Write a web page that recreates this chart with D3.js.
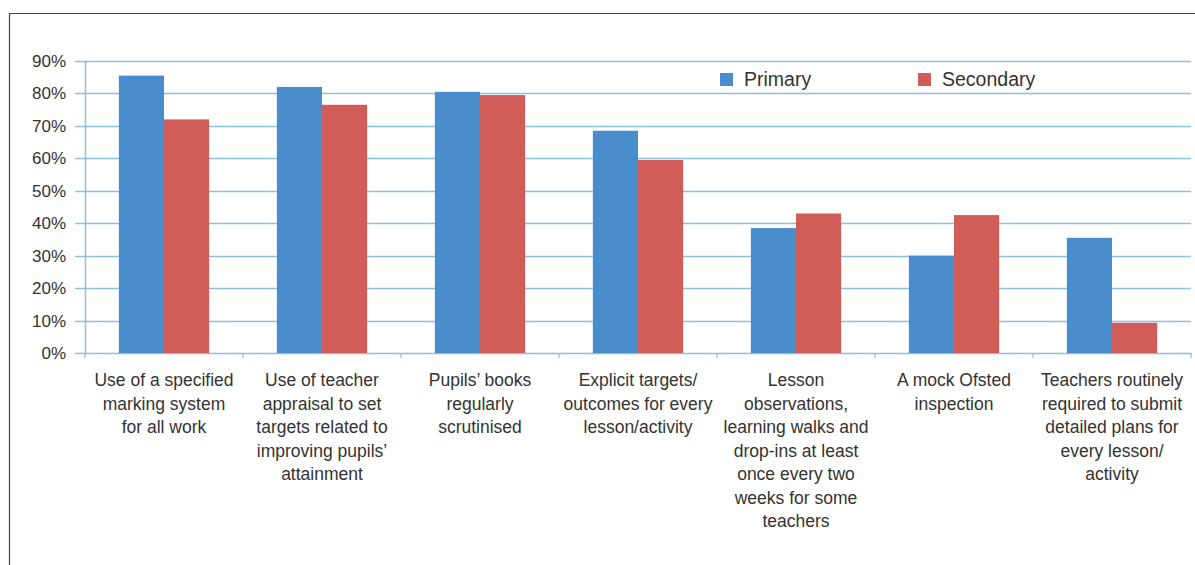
<!DOCTYPE html>
<html>
<head>
<meta charset="utf-8">
<script src="https://cdn.jsdelivr.net/npm/d3@7"></script>
<style>
  body { margin: 0; background: #fff; }
  svg { display: block; font-family: "Liberation Sans", Arial, sans-serif; }
</style>
</head>
<body>
<svg width="1195" height="565"></svg>
<script>
// categories, each as its wrapped lines
var categories = [
  ["Use of a specified", "marking system", "for all work"],
  ["Use of teacher", "appraisal to set", "targets related to", "improving pupils\u2019", "attainment"],
  ["Pupils\u2019 books", "regularly", "scrutinised"],
  ["Explicit targets/", "outcomes for every", "lesson/activity"],
  ["Lesson", "observations,", "learning walks and", "drop-ins at least", "once every two", "weeks for some", "teachers"],
  ["A mock Ofsted", "inspection"],
  ["Teachers routinely", "required to submit", "detailed plans for", "every lesson/", "activity"]
];
var primary   = [85.5, 82, 80.5, 68.5, 38.5, 30, 35.5];
var secondary = [72, 76.5, 79.5, 59.5, 43, 42.5, 9.3];
var series = ["Primary", "Secondary"];
var yTicks = [0, 10, 20, 30, 40, 50, 60, 70, 80, 90];

var colors = { Primary: "#4a8dcd", Secondary: "#d05d57" };

var svg = d3.select("svg");

// outer frame
svg.append("path")
   .attr("d", "M9.5,600 L9.5,13.5 L1200,13.5")
   .style("fill", "none")
   .style("stroke", "#444")
   .style("stroke-width", 1.2);

var plotLeft = 85, plotRight = 1191, plotTop = 61, plotBottom = 353;

var x = d3.scaleBand()
          .domain(d3.range(categories.length))
          .range([plotLeft, plotRight]);

var x1 = d3.scaleBand()
           .domain(series)
           .range([0, x.bandwidth()])
           .paddingInner(0)
           .paddingOuter(0.75);

var y = d3.scaleLinear()
          .domain([0, 90])
          .range([plotBottom, plotTop]);

// gridlines
svg.append("g")
   .selectAll("line")
   .data(yTicks)
   .join("line")
   .attr("x1", plotLeft - 10)
   .attr("x2", plotRight)
   .attr("y1", function(d) { return Math.round(y(d)) + 0.5; })
   .attr("y2", function(d) { return Math.round(y(d)) + 0.5; })
   .style("stroke", "#8cc0e2")
   .style("stroke-width", 1.5);

// y axis line
svg.append("line")
   .attr("x1", plotLeft + 0.5).attr("x2", plotLeft + 0.5)
   .attr("y1", plotTop).attr("y2", plotBottom)
   .style("stroke", "#8cc0e2")
   .style("stroke-width", 1.5);

// y tick labels
svg.append("g")
   .selectAll("text")
   .data(yTicks)
   .join("text")
   .attr("x", 66)
   .attr("y", function(d) { return y(d) + 6; })
   .attr("text-anchor", "end")
   .style("font-size", "17px")
   .style("fill", "#333")
   .text(function(d) { return d + "%"; });

// x tick marks between categories
svg.append("g")
   .selectAll("line")
   .data(d3.range(categories.length + 1))
   .join("line")
   .attr("x1", function(d) { return plotLeft + d * x.step(); })
   .attr("x2", function(d) { return plotLeft + d * x.step(); })
   .attr("y1", plotBottom)
   .attr("y2", plotBottom + 5)
   .style("stroke", "#8cc0e2")
   .style("stroke-width", 1.2);

// bars
var rows = primary.map(function(p, i) {
  return [{ s: "Primary", v: p, i: i }, { s: "Secondary", v: secondary[i], i: i }];
});

svg.append("g")
   .selectAll("g")
   .data(rows)
   .join("g")
   .attr("transform", function(d, i) { return "translate(" + x(i) + ",0)"; })
   .selectAll("rect")
   .data(function(d) { return d; })
   .join("rect")
   .attr("x", function(d) { return x1(d.s); })
   .attr("width", x1.bandwidth())
   .attr("y", function(d) { return y(d.v); })
   .attr("height", function(d) { return y(0) - y(d.v); })
   .style("fill", function(d) { return colors[d.s]; });

// category labels
svg.append("g")
   .selectAll("text")
   .data(categories)
   .join("text")
   .attr("text-anchor", "middle")
   .attr("transform", function(d, i) { return "translate(" + (x(i) + x.bandwidth() / 2) + ",386)"; })
   .style("font-size", "17.5px")
   .style("fill", "#333")
   .selectAll("tspan")
   .data(function(d) { return d; })
   .join("tspan")
   .attr("x", 0)
   .attr("y", function(d, j) { return j * 23.5; })
   .text(function(d) { return d; });

// legend
var legendX = [720, 918];
var legend = svg.append("g")
   .selectAll("g")
   .data(series)
   .join("g")
   .attr("transform", function(d, i) { return "translate(" + legendX[i] + ",73)"; });

legend.append("rect")
   .attr("width", 13)
   .attr("height", 13)
   .style("fill", function(d) { return colors[d]; });

legend.append("text")
   .attr("x", 24)
   .attr("y", 13)
   .style("font-size", "19.5px")
   .style("fill", "#333")
   .text(function(d) { return d; });
</script>
</body>
</html>
